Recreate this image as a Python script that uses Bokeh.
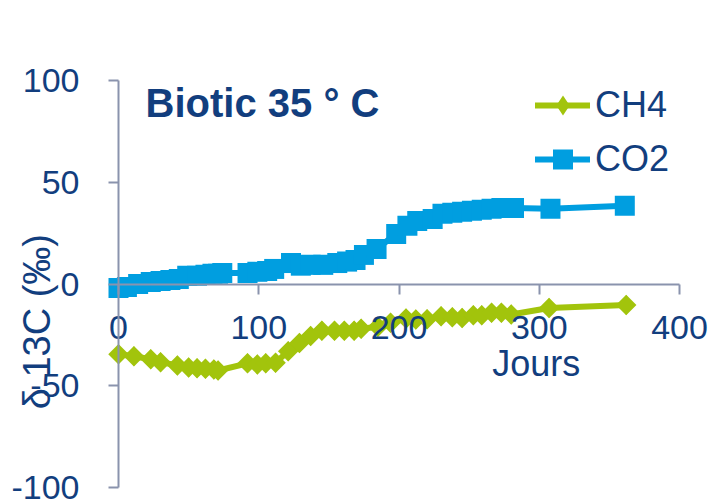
from math import pi
from bokeh.plotting import figure
from bokeh.models import (Range1d, FixedTicker, Label, Legend, LegendItem,
                          NumeralTickFormatter)
from bokeh.embed import file_html
from bokeh.resources import INLINE

# ---- data ----
co2_days = [0, 6, 14, 23, 30, 37, 43, 49, 56, 62, 67, 71, 74, 92, 99, 106, 111,
            123, 130, 137, 146, 156, 163, 169, 175, 184, 198, 206, 213, 224, 231,
            238, 245, 252, 259, 266, 273, 282, 308, 361]
co2_values = [-2, -1.5, 0, 1, 1.5, 2, 2.5, 4, 4, 4.5, 5, 5, 5.4, 5.4, 6, 6.4, 7.4,
              10.3, 9, 9.4, 9.4, 10.3, 11, 11.8, 14.3, 17.2, 24.6, 28.6, 31, 32, 34.5,
              35, 35.5, 36, 36.5, 37, 37.4, 37.4, 37, 38.4]
ch4_days = [0, 11, 23, 30, 42, 50, 56, 62, 68, 71, 92, 99, 105, 112, 121, 129, 137,
            145, 154, 161, 168, 173, 185, 194, 205, 212, 220, 230, 238, 245, 253,
            259, 266, 273, 280, 307, 362]
ch4_values = [-34.5, -35.5, -37, -38.4, -40, -41, -41.4, -41.7, -42, -42.5, -39, -39.5,
              -39, -38.7, -33, -29, -25.6, -23, -23, -23, -23, -22, -21, -19, -17,
              -17.5, -17.3, -15.8, -16.3, -16.7, -15.3, -15.3, -14.1, -14.1, -15,
              -11.8, -10.3]
series_names = ["CH4", "CO2"]
x_ticks = [0, 100, 200, 300, 400]
y_ticks = [-100, -50, 0, 50, 100]
x_axis_span = (0, 400)
y_axis_span = (-100, 100)
title_text = "Biotic 35 ° C"
x_title = "Jours"
y_title = "δ 13C (‰)"

NAVY = "#123e7e"
GREEN = "#a2c40c"
BLUE = "#009ee0"
AXIS = "#8a93ad"
FONT = "Liberation Sans"
FS = "34px"
FS_BIG = "36px"

W, H = 714, 504
# axis box: day 0..400 -> px 118..679, value -100..100 -> px 487..80
px_per_day = (679 - 118) / (x_axis_span[1] - x_axis_span[0])
px_per_unit = (487 - 80) / (y_axis_span[1] - y_axis_span[0])
x_rng = Range1d(x_axis_span[0] - 118 / px_per_day, x_axis_span[1] + (W - 679) / px_per_day)
y_rng = Range1d(y_axis_span[0] - (H - 487) / px_per_unit, y_axis_span[1] + 80 / px_per_unit)

p = figure(width=W, height=H, output_backend="svg", toolbar_location=None,
           x_range=x_rng, y_range=y_rng, title=None,
           min_border_left=0, min_border_right=0, min_border_top=0,
           min_border_bottom=0)
p.outline_line_color = None
p.grid.visible = False
p.background_fill_color = "white"
p.border_fill_color = "white"

xa = p.xaxis[0]
xa.fixed_location = 0
xa.bounds = x_axis_span
xa.ticker = FixedTicker(ticks=x_ticks)
xa.formatter = NumeralTickFormatter(format="0")
ya = p.yaxis[0]
ya.fixed_location = 0
ya.bounds = y_axis_span
ya.ticker = FixedTicker(ticks=y_ticks)
ya.formatter = NumeralTickFormatter(format="0")
for ax in (xa, ya):
    ax.minor_tick_line_color = None
    ax.major_tick_in = 0
    ax.major_tick_out = 10
    ax.axis_line_color = AXIS
    ax.axis_line_width = 2
    ax.major_tick_line_color = AXIS
    ax.major_tick_line_width = 2
    ax.major_label_text_font = FONT
    ax.major_label_text_font_size = FS
    ax.major_label_text_color = NAVY
xa.major_label_standoff = 22
ya.major_label_standoff = 29

co2_line = p.line(co2_days, co2_values, line_color=BLUE, line_width=6,
                  line_join="round", line_cap="round")
co2_pts = p.scatter(co2_days, co2_values, marker="square", size=20,
                    fill_color=BLUE, line_color=None)
ch4_line = p.line(ch4_days, ch4_values, line_color=GREEN, line_width=6,
                  line_join="round", line_cap="round")
# diamond glyph (used for the legend key) lies fully under the 45-degree squares
ch4_key = p.scatter(ch4_days, ch4_values, marker="diamond", size=20,
                    fill_color=GREEN, line_color=None)
ch4_pts = p.scatter(ch4_days, ch4_values, marker="square", angle=pi / 4, size=14.5,
                    fill_color=GREEN, line_color=None)

legend = Legend(items=[LegendItem(label=series_names[0], renderers=[ch4_line, ch4_key]),
                       LegendItem(label=series_names[1], renderers=[co2_line, co2_pts])],
                location=(535, 320), orientation="vertical",
                glyph_width=55, glyph_height=50, label_height=50, spacing=4,
                padding=0, margin=0, label_standoff=5,
                border_line_color=None, background_fill_alpha=0,
                label_text_font=FONT, label_text_font_size=FS_BIG,
                label_text_color=NAVY)
p.add_layout(legend)

p.add_layout(Label(x=19.3, y=88.7, text=title_text, text_font=FONT,
                   text_font_style="bold", text_font_size="40px", text_color=NAVY,
                   text_align="left", text_baseline="alphabetic"))
p.add_layout(Label(x=297.9, y=-39.0, text=x_title, text_font=FONT,
                   text_font_size=FS_BIG, text_color=NAVY,
                   text_align="center", text_baseline="alphabetic"))
p.add_layout(Label(x=-58.0, y=-18.5, text=y_title, text_font=FONT, angle=pi / 2,
                   text_font_size="38px", text_color=NAVY,
                   text_align="center", text_baseline="middle"))

open("out.html", "w").write(file_html(p, INLINE))
